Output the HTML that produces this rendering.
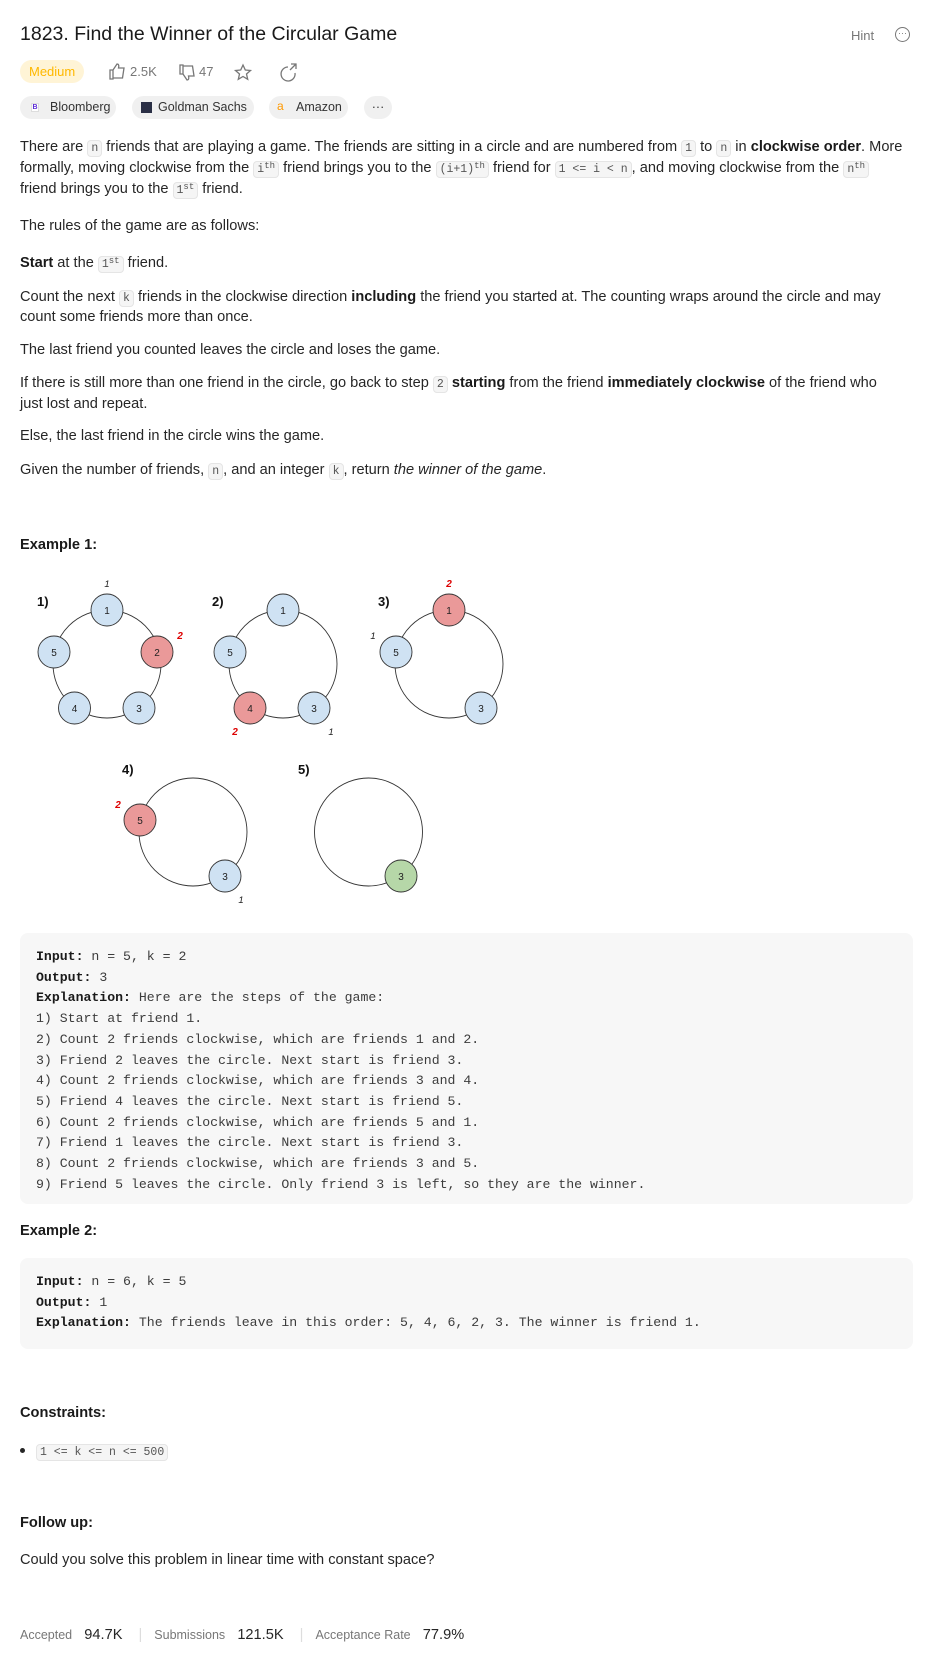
<!DOCTYPE html>
<html><head><meta charset="utf-8"><style>
*{margin:0;padding:0;box-sizing:border-box}
body{width:933px;height:1658px;background:#fff;position:relative;font-family:"Liberation Sans",sans-serif;color:#262626;font-size:14.6px;overflow:hidden}
.a{position:absolute;white-space:nowrap;line-height:21px}
code,.c{font-family:"Liberation Mono",monospace;font-size:11.5px;background:#f5f5f5;border:1px solid #e5e5e5;border-radius:4px;padding:1px 3px;color:#555}
sup{font-size:9px;vertical-align:4px;line-height:0}
b{font-weight:bold;color:#1a1a1a}
.pill{position:absolute;height:23px;border-radius:12px;background:#f0f0f0;font-size:12.5px;line-height:23px;padding:0 9px;color:#333;white-space:nowrap}
pre{position:absolute;left:20px;width:893px;background:#f7f7f7;border-radius:8px;font-family:"Liberation Mono",monospace;font-size:13.2px;line-height:20.7px;padding:0 16px;color:#3c3c3c}
pre b{font-family:"Liberation Mono",monospace;color:#1a1a1a}
.h{font-weight:bold;font-size:14.6px;color:#1a1a1a}
.g{color:#777;font-size:12.5px}
</style></head><body>
<div class="a" style="left:20px;top:22px;font-size:19.5px;line-height:24px;color:#1a1a1a">1823. Find the Winner of the Circular Game</div>
<div class="a" style="left:851px;top:25px;font-size:13px;color:#777">Hint</div>
<div style="position:absolute;left:895px;top:27px;width:15px;height:15px;border:1.3px solid #777;border-radius:50%;font-size:9px;line-height:10px;text-align:center;color:#777">···</div>
<div class="pill" style="left:20px;top:60px;background:#fff4d6;color:#ffb800;font-size:13px">Medium</div>
<svg style="position:absolute;left:108px;top:62px" width="200" height="20"><g fill="none" stroke="#777" stroke-width="1.3"><path d="M2 8h3v9H2zM5 8l4-6c2 0 2 2 1.5 4H16l-1.5 10H5"/><path d="M72 12h3V3h-3zM75 12l4 6c2 0 2-2 1.5-4H86L84.5 4H75"/><path d="M135 3l2.3 5 5.2.5-4 3.5 1.2 5.3-4.7-2.8-4.7 2.8 1.2-5.3-4-3.5 5.2-.5z"/><path d="M180 5a7 7 0 1 0 7 6M183 2h5v5M188 2l-6 6"/></g></svg>
<div class="a" style="left:130px;top:61px;font-size:13px;color:#777">2.5K</div>
<div class="a" style="left:199px;top:61px;font-size:13px;color:#777">47</div>
<div class="pill" style="left:20px;top:96px;width:96px;padding-left:30px">Bloomberg</div>
<div style="position:absolute;left:31px;top:103px;width:8px;height:9px;background:#fff;border:1px solid #ddd;color:#5b2bd6;font-size:7px;line-height:8px;text-align:center;font-weight:bold">B</div>
<div class="pill" style="left:132px;top:96px;width:122px;padding-left:26px">Goldman Sachs</div>
<div style="position:absolute;left:141px;top:102px;width:11px;height:11px;background:#2a2f45"></div>
<div class="pill" style="left:269px;top:96px;width:79px;padding-left:27px">Amazon</div>
<div class="a" style="left:277px;top:96px;color:#f90;font-size:12px;line-height:20px">a</div>
<div class="pill" style="left:364px;top:96px;width:28px;padding:0;text-align:center">···</div>

<div class="a" style="left:20px;top:137px">There are <code>n</code> friends that are playing a game. The friends are sitting in a circle and are numbered from <code>1</code> to <code>n</code> in <b>clockwise order</b>. More</div>
<div class="a" style="left:20px;top:158px">formally, moving clockwise from the <code>i<sup>th</sup></code> friend brings you to the <code>(i+1)<sup>th</sup></code> friend for <code>1 &lt;= i &lt; n</code>, and moving clockwise from the <code>n<sup>th</sup></code></div>
<div class="a" style="left:20px;top:179px">friend brings you to the <code>1<sup>st</sup></code> friend.</div>
<div class="a" style="left:20px;top:216px">The rules of the game are as follows:</div>
<div class="a" style="left:20px;top:253px"><b>Start</b> at the <code>1<sup>st</sup></code> friend.</div>
<div class="a" style="left:20px;top:287px">Count the next <code>k</code> friends in the clockwise direction <b>including</b> the friend you started at. The counting wraps around the circle and may</div>
<div class="a" style="left:20px;top:307px">count some friends more than once.</div>
<div class="a" style="left:20px;top:340px">The last friend you counted leaves the circle and loses the game.</div>
<div class="a" style="left:20px;top:373px">If there is still more than one friend in the circle, go back to step <code>2</code> <b>starting</b> from the friend <b>immediately clockwise</b> of the friend who</div>
<div class="a" style="left:20px;top:394px">just lost and repeat.</div>
<div class="a" style="left:20px;top:426px">Else, the last friend in the circle wins the game.</div>
<div class="a" style="left:20px;top:460px">Given the number of friends, <code>n</code>, and an integer <code>k</code>, return <i>the winner of the game</i>.</div>
<div class="a h" style="left:20px;top:535px">Example 1:</div>

<svg style="position:absolute;left:0;top:0" width="933" height="1000" font-family="Liberation Sans,sans-serif">
<g fill="none" stroke="#333" stroke-width="0.9">
<circle cx="107" cy="664" r="54"/><circle cx="283" cy="664" r="54"/><circle cx="449" cy="664" r="54"/><circle cx="193" cy="832" r="54"/><circle cx="368.5" cy="832" r="54"/>
</g>
<g stroke="#333" stroke-width="0.9">
<circle cx="107" cy="610" r="16" fill="#cfe2f3"/><circle cx="157" cy="652" r="16" fill="#ea9999"/><circle cx="54" cy="652" r="16" fill="#cfe2f3"/><circle cx="74.5" cy="708" r="16" fill="#cfe2f3"/><circle cx="139" cy="708" r="16" fill="#cfe2f3"/>
<circle cx="283" cy="610" r="16" fill="#cfe2f3"/><circle cx="230" cy="652" r="16" fill="#cfe2f3"/><circle cx="250" cy="708" r="16" fill="#ea9999"/><circle cx="314" cy="708" r="16" fill="#cfe2f3"/>
<circle cx="449" cy="610" r="16" fill="#ea9999"/><circle cx="396" cy="652" r="16" fill="#cfe2f3"/><circle cx="481" cy="708" r="16" fill="#cfe2f3"/>
<circle cx="140" cy="820" r="16" fill="#ea9999"/><circle cx="225" cy="876" r="16" fill="#cfe2f3"/>
<circle cx="401" cy="876" r="16" fill="#b6d7a8"/>
</g>
<g font-size="10" text-anchor="middle" fill="#222">
<text x="107" y="614">1</text><text x="157" y="656">2</text><text x="54" y="656">5</text><text x="74.5" y="712">4</text><text x="139" y="712">3</text>
<text x="283" y="614">1</text><text x="230" y="656">5</text><text x="250" y="712">4</text><text x="314" y="712">3</text>
<text x="449" y="614">1</text><text x="396" y="656">5</text><text x="481" y="712">3</text>
<text x="140" y="824">5</text><text x="225" y="880">3</text><text x="401" y="880">3</text>
</g>
<g font-size="13" font-weight="bold" fill="#111">
<text x="37" y="606">1)</text><text x="212" y="606">2)</text><text x="378" y="606">3)</text><text x="122" y="774">4)</text><text x="298" y="774">5)</text>
</g>
<g font-size="9.5" font-style="italic" text-anchor="middle" fill="#222">
<text x="107" y="587">1</text><text x="331" y="735">1</text><text x="373" y="639">1</text><text x="241" y="903">1</text>
</g>
<g font-size="10" font-style="italic" font-weight="bold" text-anchor="middle" fill="#d00">
<text x="180" y="639">2</text><text x="235" y="735">2</text><text x="449" y="587">2</text><text x="118" y="808">2</text>
</g>
</svg>

<pre style="top:933px;height:271px;padding-top:14px"><b>Input:</b> n = 5, k = 2
<b>Output:</b> 3
<b>Explanation:</b> Here are the steps of the game:
1) Start at friend 1.
2) Count 2 friends clockwise, which are friends 1 and 2.
3) Friend 2 leaves the circle. Next start is friend 3.
4) Count 2 friends clockwise, which are friends 3 and 4.
5) Friend 4 leaves the circle. Next start is friend 5.
6) Count 2 friends clockwise, which are friends 5 and 1.
7) Friend 1 leaves the circle. Next start is friend 3.
8) Count 2 friends clockwise, which are friends 3 and 5.
9) Friend 5 leaves the circle. Only friend 3 is left, so they are the winner.</pre>
<div class="a h" style="left:20px;top:1221px">Example 2:</div>
<pre style="top:1258px;height:91px;padding-top:14px"><b>Input:</b> n = 6, k = 5
<b>Output:</b> 1
<b>Explanation:</b> The friends leave in this order: 5, 4, 6, 2, 3. The winner is friend 1.</pre>
<div class="a h" style="left:20px;top:1403px">Constraints:</div>
<div style="position:absolute;left:20px;top:1448px;width:5px;height:5px;border-radius:50%;background:#262626"></div>
<div class="a" style="left:36px;top:1441px"><code style="font-size:11.5px">1 &lt;= k &lt;= n &lt;= 500</code></div>
<div class="a h" style="left:20px;top:1513px">Follow up:</div>
<div class="a" style="left:20px;top:1550px">Could you solve this problem in linear time with constant space?</div>
<div class="a" style="left:20px;top:1625px"><span class="g">Accepted</span>&nbsp;&nbsp; 94.7K <span style="color:#ddd;margin:0 12px">|</span><span class="g">Submissions</span>&nbsp;&nbsp; 121.5K <span style="color:#ddd;margin:0 12px">|</span><span class="g">Acceptance Rate</span>&nbsp;&nbsp; 77.9%</div>
</body></html>
